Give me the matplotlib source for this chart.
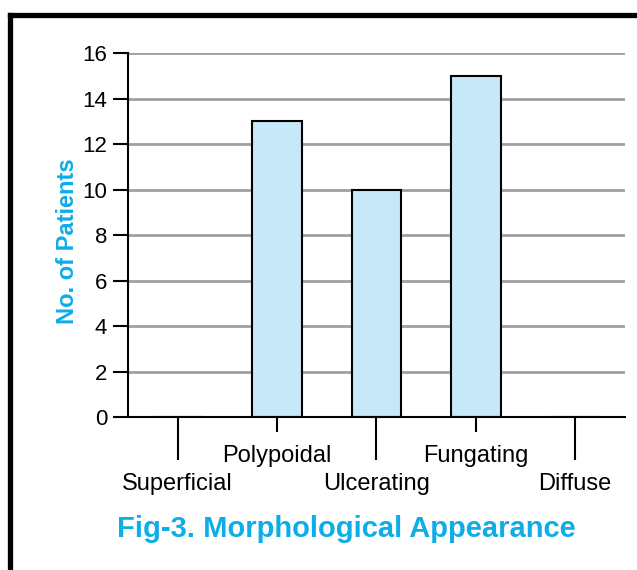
import matplotlib.pyplot as plt
from matplotlib.lines import Line2D

categories = ['Superficial', 'Polypoidal', 'Ulcerating', 'Fungating', 'Diffuse']
patients = [0, 13, 10, 15, 0]
y_ticks = [0, 2, 4, 6, 8, 10, 12, 14, 16]

blue = '#0DADE8'
plt.rcParams['font.family'] = ['Liberation Sans', 'DejaVu Sans']

fig = plt.figure(figsize=(6.37, 5.7), dpi=100)
ax = fig.add_axes([0.201, 0.268, 0.780, 0.639])

x = list(range(len(categories)))
ax.bar(x, patients, width=0.5, color='#C6E8F8', edgecolor='black', linewidth=1.5, zorder=3)

ax.set_xlim(-0.5, len(categories) - 0.5)
ax.set_ylim(0, 16)
ax.set_yticks(y_ticks)
ax.tick_params(axis='y', length=11, width=1.5, labelsize=16, pad=4)
for y in y_ticks[1:]:
    ax.axhline(y, color='#A0A0A0', linewidth=2, zorder=1)

# staggered category labels: long ticks on even, short ticks on odd positions
ax.set_xticks(x[0::2])
ax.set_xticklabels(categories[0::2])
ax.set_xticks(x[1::2], minor=True)
ax.set_xticklabels(categories[1::2], minor=True)
ax.tick_params(axis='x', which='major', length=31, width=1.5, labelsize=17, pad=9)
ax.tick_params(axis='x', which='minor', length=11, width=1.5, labelsize=17, pad=9)

for side in ['top', 'right']:
    ax.spines[side].set_visible(False)
ax.spines['left'].set_linewidth(1.5)
ax.spines['bottom'].set_linewidth(1.5)
ax.spines['bottom'].set_zorder(4)

ax.set_ylabel('No. of Patients', color=blue, fontsize=17, fontweight='bold')
ax.yaxis.set_label_coords(-0.099, 0.484)

fig.text(0.543, 0.072, 'Fig-3. Morphological Appearance', color=blue,
         fontsize=21, fontweight='bold', ha='center', va='center')

# frame lines at top and left
fig.add_artist(Line2D([0.0157, 1.0], [0.974, 0.974], color='black', linewidth=3.8,
                      transform=fig.transFigure))
fig.add_artist(Line2D([0.0157, 0.0157], [0.0, 0.974], color='black', linewidth=3.8,
                      transform=fig.transFigure))

fig.savefig('out.png', dpi=100)
